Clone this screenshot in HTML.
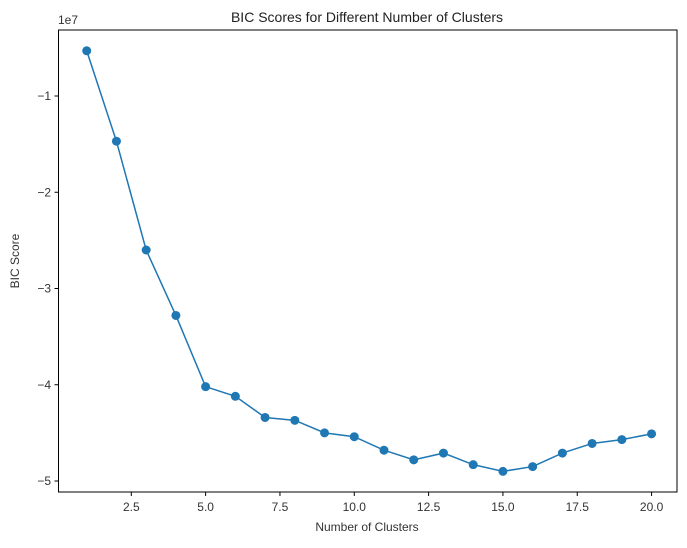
<!DOCTYPE html>
<html><head><meta charset="utf-8"><style>
body{margin:0;background:#fff;font-family:"Liberation Sans","Noto Sans CJK KR",sans-serif}
</style></head><body>
<svg id="chart" width="687" height="543" xmlns="http://www.w3.org/2000/svg">
<text x="367" y="22" text-anchor="middle" font-size="14" fill="#222">BIC Scores for Different Number of Clusters</text>
<text x="58" y="24" font-size="12" fill="#333">1e7</text>
<text x="367" y="531" text-anchor="middle" font-size="12" fill="#333">Number of Clusters</text>
<text x="19" y="261" text-anchor="middle" font-size="12" fill="#333" transform="rotate(-90 19 261)">BIC Score</text>
<g id="marks"></g>
<rect x="58.5" y="30" width="618.5" height="462" fill="none" stroke="#000" stroke-width="1"/>
</svg>
<script>
const clusters=[1,2,3,4,5,6,7,8,9,10,11,12,13,14,15,16,17,18,19,20];
const bic=[-0.53,-1.47,-2.60,-3.28,-4.02,-4.12,-4.34,-4.37,-4.50,-4.54,-4.68,-4.78,-4.71,-4.83,-4.90,-4.85,-4.71,-4.61,-4.57,-4.51];
const xTicks=[2.5,5.0,7.5,10.0,12.5,15.0,17.5,20.0];
const yTicks=[-1,-2,-3,-4,-5];
const NS="http://www.w3.org/2000/svg";
const X=v=>131.3+(v-2.5)*29.73;
const Y=v=>96-(v+1)*96.25;
const svg=document.getElementById('chart');
const g=document.getElementById('marks');
function mk(t,a,p){const e=document.createElementNS(NS,t);for(const k in a)e.setAttribute(k,a[k]);(p||g).appendChild(e);return e;}
xTicks.forEach(t=>{
  const l=mk('line',{x1:X(t),x2:X(t),y1:492,y2:496,stroke:'#000'});
  
  
  const tx=mk('text',{x:X(t),y:511,'text-anchor':'middle','font-size':12,fill:'#333'});
  tx.textContent=t.toFixed(1);
  
  
});
yTicks.forEach(t=>{
  const l=mk('line',{x1:54.5,x2:58.5,y1:Y(t),y2:Y(t),stroke:'#000'});
  
  
  const tx=mk('text',{x:51,y:Y(t)+4,'text-anchor':'end','font-size':12,fill:'#333'});
  tx.textContent='\u2212'+Math.abs(t);
  
  
});
const pl=mk('polyline',{points:clusters.map((c,i)=>X(c)+','+Y(bic[i])).join(' '),fill:'none',stroke:'#1f77b4','stroke-width':1.5});


clusters.forEach((c,i)=>{
  const p=mk('circle',{cx:X(c),cy:Y(bic[i]),r:4.5,fill:'#1f77b4'});
  
  
});
</script>
</body></html>
